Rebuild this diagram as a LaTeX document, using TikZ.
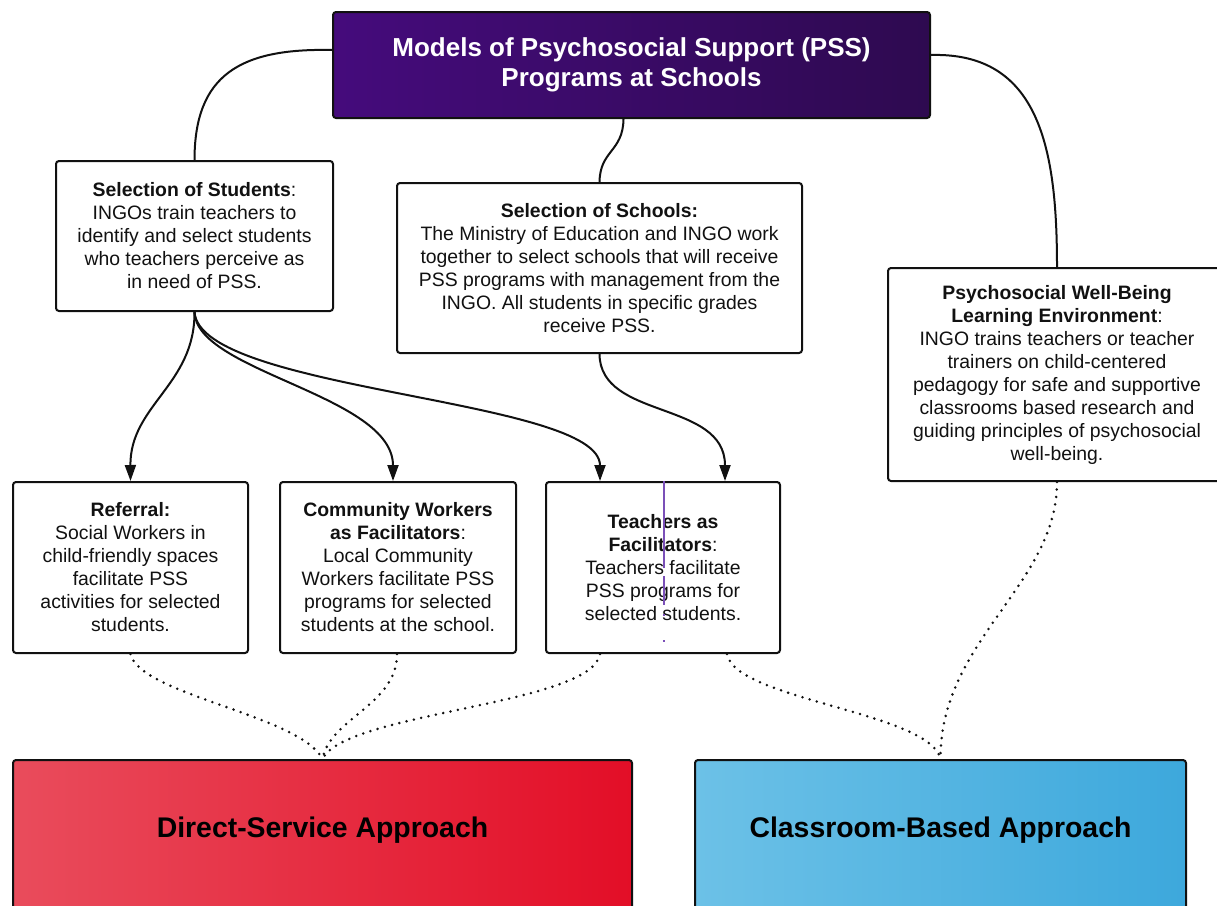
\documentclass[tikz,border=0pt]{standalone}
\usepackage{fontspec}
\setmainfont{Liberation Sans}
\usetikzlibrary{arrows.meta}

\definecolor{inkblack}{HTML}{111111}
\definecolor{pssleft}{HTML}{450B7C}
\definecolor{pssright}{HTML}{2E0A50}
\definecolor{redleft}{HTML}{E94C5C}
\definecolor{redright}{HTML}{E30E27}
\definecolor{blueleft}{HTML}{6CC1E7}
\definecolor{blueright}{HTML}{3DA8DC}
\definecolor{guideline}{HTML}{7B50B8}

\begin{document}
\begin{tikzpicture}[x=1pt,y=-1pt,
  infobox/.style={draw=inkblack, line width=2pt, rounded corners=3pt, fill=white,
    align=center, text=inkblack, inner sep=0pt,
    font=\fontsize{19.4}{23}\selectfont},
  bigbox/.style={draw=inkblack, line width=2pt, rounded corners=3pt, inner sep=0pt},
  biglabel/.style={text=black, font=\fontsize{28.4}{32}\selectfont\bfseries},
  link/.style={draw=inkblack, line width=2pt},
  arrowlink/.style={link, -{Triangle[length=16pt,width=11pt]}},
  dotlink/.style={draw=inkblack, line width=2.8pt, line cap=round, dash pattern=on 0pt off 7.5pt},
  guide/.style={draw=guideline, line width=2.4pt, dash pattern=on 87pt off 8pt on 29pt off 9pt on 2pt off 24pt on 2pt off 20pt}
]
\useasboundingbox (0,0) rectangle (1217,905);
\clip (0,0) rectangle (1217,905);
\fill[white] (0,0) rectangle (1217,905);

% title box
\node[bigbox, left color=pssleft, right color=pssright, minimum width=597pt, minimum height=106pt,
  align=center, text=white, font=\fontsize{26}{30}\selectfont\bfseries]
  (top) at (631.5,65) {Models of Psychosocial Support (PSS)\\Programs at Schools};

% selection boxes
\node[infobox, minimum width=277pt, minimum height=150pt] (students) at (194.5,236)
  {\textbf{Selection of Students}:\\INGOs train teachers to\\identify and select students\\who teachers perceive as\\in need of PSS.};
\node[infobox, minimum width=405pt, minimum height=170pt] (schools) at (599.5,268)
  {\textbf{Selection of Schools:}\\The Ministry of Education and INGO work\\together to select schools that will receive\\PSS programs with management from the\\INGO. All students in specific grades\\receive PSS.};
\node[infobox, minimum width=338pt, minimum height=213pt] (wellbeing) at (1057,374.5)
  {\textbf{Psychosocial Well-Being}\\\textbf{Learning Environment}:\\INGO trains teachers or teacher\\trainers on child-centered\\pedagogy for safe and supportive\\classrooms based research and\\guiding principles of psychosocial\\well-being.};

% facilitator boxes
\node[infobox, minimum width=235pt, minimum height=171pt] (referral) at (130.5,567.5)
  {\textbf{Referral:}\\Social Workers in\\child-friendly spaces\\facilitate PSS\\activities for selected\\students.};
\node[infobox, minimum width=236pt, minimum height=171pt] (community) at (398,567.5)
  {\textbf{Community Workers}\\\textbf{as Facilitators}:\\Local Community\\Workers facilitate PSS\\programs for selected\\students at the school.};
\node[infobox, minimum width=234pt, minimum height=171pt] (teachers) at (663,567.5)
  {\textbf{Teachers as}\\\textbf{Facilitators}:\\Teachers facilitate\\PSS programs for\\selected students.};

% approach boxes
\node[bigbox, left color=redleft, right color=redright, minimum width=619pt, minimum height=160pt,
  anchor=north] (direct) at (322.5,759) {};
\node[biglabel] (directlabel) at (322.5,830) {Direct-Service Approach};
\node[bigbox, left color=blueleft, right color=blueright, minimum width=491pt, minimum height=160pt,
  anchor=north] (classroom) at (940.5,759) {};
\node[biglabel] (classroomlabel) at (940.5,830) {Classroom-Based Approach};

% links from the title box
\draw[link] ([yshift=15pt]top.west) .. controls (240,48) and (194.5,75) .. (students.north);
\draw[link] ([xshift=-8pt]top.south) .. controls (623,152) and (600,150) .. (schools.north);
\draw[link] ([yshift=10pt]top.east) .. controls (1040,52) and (1057,150) .. (wellbeing.north);

% arrows to the facilitator boxes
\draw[arrowlink] (students.south) .. controls (195,385) and (130,405) .. (referral.north);
\draw[arrowlink] (students.south) .. controls (196,372) and (393,395) .. ([xshift=-5pt]community.north);
\draw[arrowlink] (students.south) .. controls (200,392) and (600,398) .. ([xshift=-63pt]teachers.north);
\draw[arrowlink] (schools.south) .. controls (600,420) and (725,400) .. ([xshift=62pt]teachers.north);

% dotted links to the approaches
\draw[dotlink] (referral.south) .. controls (140,695) and (300,715) .. (direct.north);
\draw[dotlink] ([xshift=-1pt]community.south) .. controls (397,705) and (330,718) .. (direct.north);
\draw[dotlink] ([xshift=-63pt]teachers.south) .. controls (592,705) and (345,712) .. (direct.north);
\draw[dotlink] ([xshift=64pt]teachers.south) .. controls (735,700) and (930,712) .. (classroom.north);
\draw[dotlink] (wellbeing.south) .. controls (1057,585) and (940,640) .. (classroom.north);

% vertical guide across the teachers box
\coordinate (guideend) at ([xshift=1pt,yshift=4pt]teachers.south);
\draw[guide] ([xshift=1pt]teachers.north) -- (guideend);
\end{tikzpicture}
\end{document}
